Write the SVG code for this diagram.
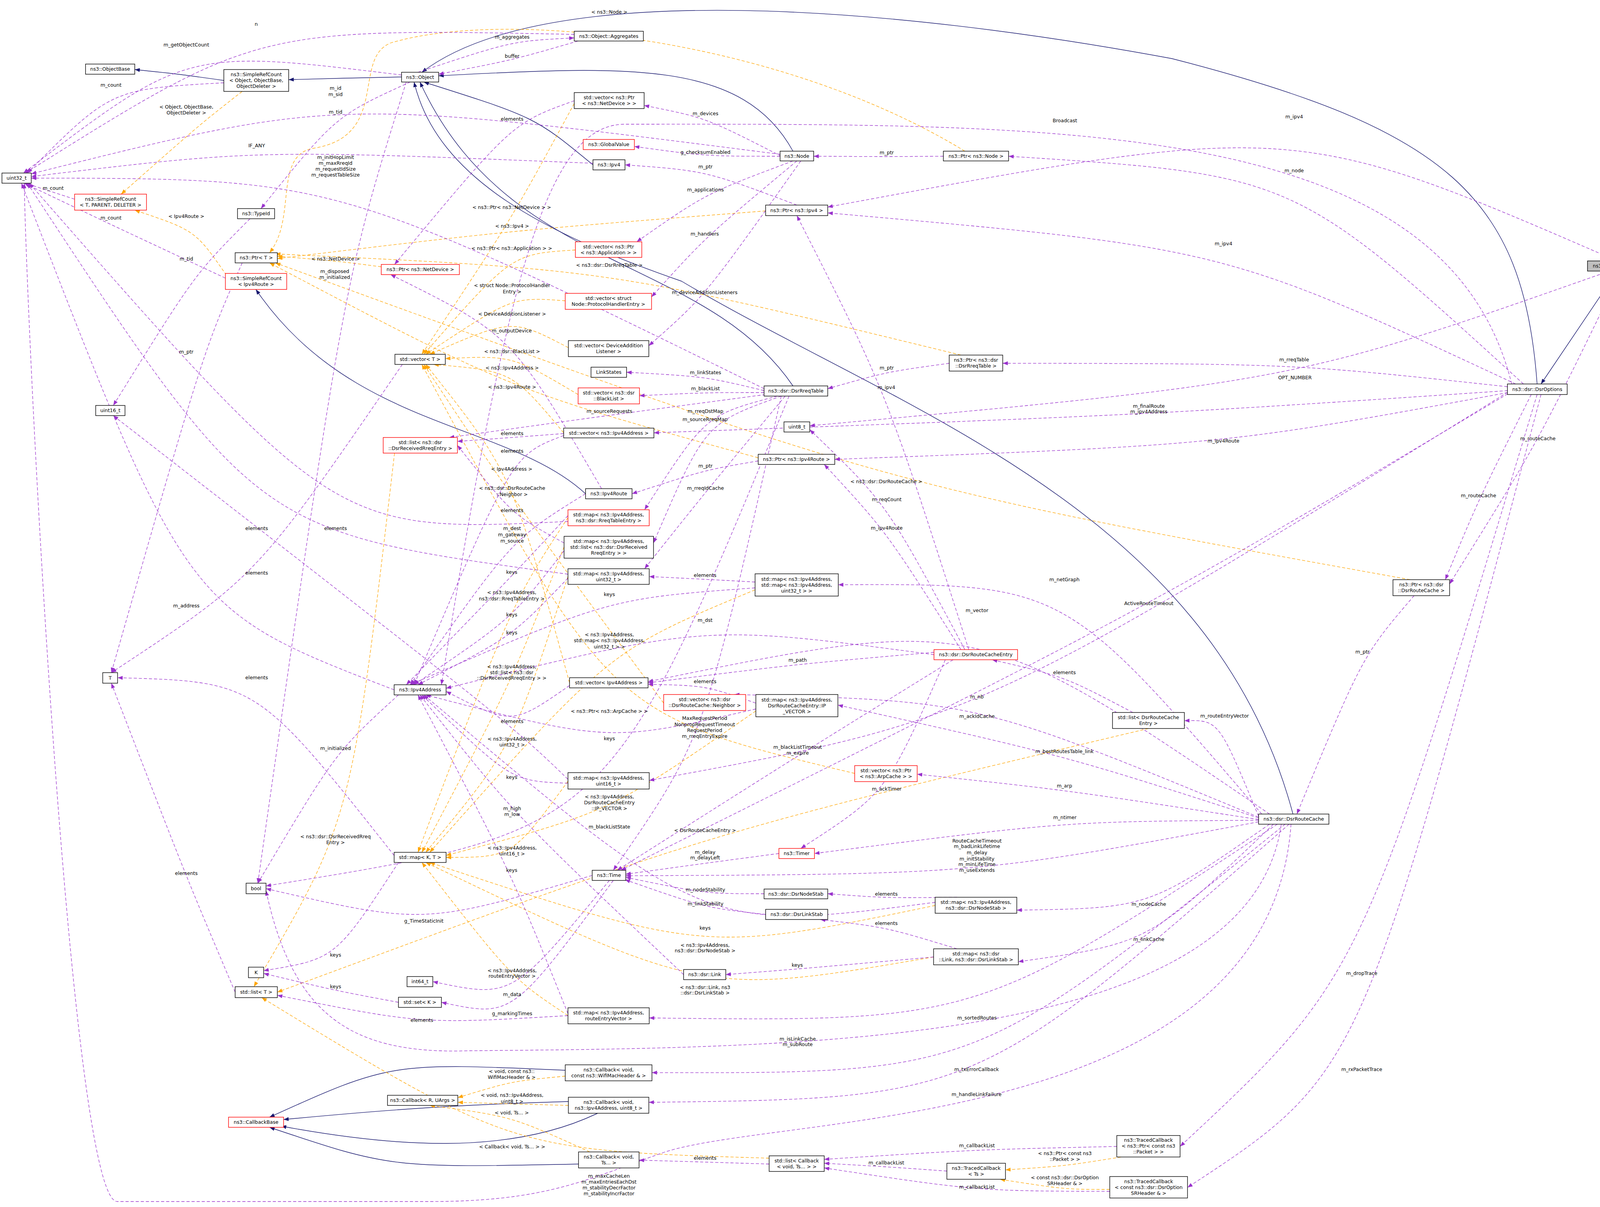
<svg xmlns="http://www.w3.org/2000/svg" width="4237" height="3090" viewBox="0 0 4237 3090">
<style>
text{font-family:"DejaVu Sans","Liberation Sans",sans-serif;font-size:12.5px;fill:#000;text-anchor:middle}
.nd rect{fill:#fff;stroke:#000;stroke-width:1.4}
.nd.red rect{stroke:#ff0000}
.nd.cur rect{fill:#bfbfbf}
.m{fill:none;stroke:#9a32cd;stroke-width:1.3;stroke-dasharray:8,5;marker-end:url(#am)}
.t{fill:none;stroke:#ffa500;stroke-width:1.3;stroke-dasharray:8,5;marker-end:url(#at)}
.i{fill:none;stroke:#191970;stroke-width:1.4;marker-end:url(#ai)}
</style>
<defs>
<marker id="am" markerUnits="userSpaceOnUse" markerWidth="13" markerHeight="10" refX="13" refY="5" orient="auto"><path d="M0,0 L13,5 L0,10 z" fill="#9a32cd"/></marker>
<marker id="at" markerUnits="userSpaceOnUse" markerWidth="13" markerHeight="10" refX="13" refY="5" orient="auto"><path d="M0,0 L13,5 L0,10 z" fill="#ffa500"/></marker>
<marker id="ai" markerUnits="userSpaceOnUse" markerWidth="13" markerHeight="10" refX="13" refY="5" orient="auto"><path d="M0,0 L13,5 L0,10 z" fill="#191970"/></marker>
</defs>
<rect width="4237" height="3090" fill="#fff"/>
<g id="edges">
<path class="i" d="M573,206 C460,190 460,190 345,178"/>
<path class="i" d="M1028,197 C880,200 880,200 739,204"/>
<path class="i" d="M2030,387 C1900,150 1600,170 1123,194"/>
<path class="i" d="M1518,422 C1370,300 1370,300 1085,210"/>
<path class="i" d="M2030,988 C1800,650 1300,700 1075,210"/>
<path class="i" d="M3310,2084 C3100,1300 2300,1050 1745,720 C1400,600 1120,460 1060,210"/>
<path class="i" d="M3935,983 C3900,500 3700,330 3000,150 C2300,20 1400,-60 1080,185"/>
<path class="i" d="M4140,694 L3945,983"/>
<path class="i" d="M1499,1264 C1300,1080 900,1100 655,741"/>
<path class="i" d="M1447,2740 C1000,2720 1000,2720 690,2860"/>
<path class="i" d="M1455,2820 C1100,2830 900,2850 726,2866"/>
<path class="i" d="M1530,2850 C1300,2960 1000,2935 720,2883"/>
<path class="i" d="M1481,2980 C1000,2990 1000,2990 690,2886"/>
<path class="t" d="M620,234 C510,320 510,320 310,497"/>
<path class="t" d="M580,705 C500,590 500,590 345,538"/>
<path class="t" d="M2470,387 C2000,100 1300,20 1000,110 C900,150 1000,350 800,380 C700,400 760,560 690,647"/>
<path class="t" d="M976,683 C860,668 860,668 710,656"/>
<path class="t" d="M1960,540 C1311,590 1311,590 710,662"/>
<path class="t" d="M2460,909 C1560,690 1560,690 705,650"/>
<path class="t" d="M1941,1172 C1311,1000 1311,1000 690,673"/>
<path class="t" d="M3610,1484 C2269,1243 2269,1243 705,673"/>
<path class="t" d="M1470,265 C1310,560 1310,560 1080,907"/>
<path class="t" d="M1473,640 C1310,650 1310,650 1085,907"/>
<path class="t" d="M1447,770 C1311,760 1311,760 1090,907"/>
<path class="t" d="M1455,890 C1311,815 1311,815 1100,907"/>
<path class="t" d="M1480,1010 C1311,910 1311,910 1140,918"/>
<path class="t" d="M1443,1108 C1311,950 1311,950 1110,933"/>
<path class="t" d="M1458,1748 C1310,1210 1310,1210 1090,933"/>
<path class="t" d="M1699,1800 C1311,1275 1311,1275 1085,933"/>
<path class="t" d="M2188,1980 C1560,1830 1560,1830 1080,933"/>
<path class="t" d="M1010,1160 C900,2100 900,2100 650,2526"/>
<path class="t" d="M2940,1865 C1805,2135 1805,2135 710,2540"/>
<path class="t" d="M1969,2965 C1311,2945 1311,2945 670,2554"/>
<path class="t" d="M1454,1325 C1310,1545 1310,1545 1070,2182"/>
<path class="t" d="M1444,1400 C1310,1745 1310,1745 1080,2182"/>
<path class="t" d="M1454,1476 C1311,1915 1311,1915 1090,2182"/>
<path class="t" d="M1933,1510 C1560,1665 1560,1665 1100,2182"/>
<path class="t" d="M1935,1820 C1560,2080 1560,2080 1142,2190"/>
<path class="t" d="M1454,2000 C1311,2195 1311,2195 1142,2195"/>
<path class="t" d="M1454,2600 C1311,2505 1311,2505 1080,2208"/>
<path class="t" d="M2394,2318 C1805,2440 1805,2440 1100,2208"/>
<path class="t" d="M2390,2450 C1805,2550 1805,2550 1090,2208"/>
<path class="t" d="M1447,2755 C1310,2768 1310,2768 1172,2810"/>
<path class="t" d="M1455,2830 C1311,2826 1311,2826 1172,2822"/>
<path class="t" d="M1510,2949 C1310,2858 1310,2858 1100,2830"/>
<path class="t" d="M2870,2962 C2726,2985 2726,2985 2574,2995"/>
<path class="t" d="M2841,3045 C2726,3045 2726,3045 2560,3019"/>
<path class="m" d="M1470,88 C656,72 656,72 65,443"/>
<path class="m" d="M1028,192 C477,125 477,125 60,443"/>
<path class="m" d="M573,212 C284,228 284,228 70,443"/>
<path class="m" d="M1070,185 C1311,105 1311,105 1470,97"/>
<path class="m" d="M1480,105 C1311,154 1311,154 1123,190"/>
<path class="m" d="M1997,395 C859,250 859,250 80,445"/>
<path class="m" d="M1050,210 C859,297 859,297 668,534"/>
<path class="m" d="M1518,418 C657,383 657,383 80,452"/>
<path class="m" d="M1956,995 C859,457 859,457 80,456"/>
<path class="m" d="M191,510 C136,492 136,492 65,469"/>
<path class="m" d="M577,712 C284,575 284,575 62,469"/>
<path class="m" d="M640,560 C500,700 500,700 290,1038"/>
<path class="m" d="M620,673 C520,901 520,901 285,1722"/>
<path class="m" d="M1040,210 C880,720 880,720 660,2261"/>
<path class="m" d="M1020,1779 C859,1926 859,1926 660,2261"/>
<path class="m" d="M2000,400 C1806,301 1806,301 1649,270"/>
<path class="m" d="M1997,400 C1806,400 1806,400 1624,375"/>
<path class="m" d="M2040,525 C1806,437 1806,437 1600,422"/>
<path class="m" d="M2030,412 C1806,496 1806,496 1630,619"/>
<path class="m" d="M2040,412 C1804,609 1804,609 1668,760"/>
<path class="m" d="M2050,412 C1804,759 1804,759 1661,885"/>
<path class="m" d="M2415,400 C2270,401 2270,401 2083,400"/>
<path class="m" d="M3900,983 C3313,447 3313,447 2582,400"/>
<path class="m" d="M4140,668 C3313,309 3313,309 2119,530"/>
<path class="m" d="M3880,983 C3132,634 3132,634 2119,545"/>
<path class="m" d="M2480,1663 C2269,1002 2269,1002 2040,552"/>
<path class="m" d="M3870,983 C3700,300 2726,318 1600,318 C1400,318 1300,700 1130,1753"/>
<path class="m" d="M1956,1000 C1806,964 1806,964 1604,953"/>
<path class="m" d="M1956,1005 C1806,1005 1806,1005 1637,1013"/>
<path class="m" d="M1960,1010 C1560,1063 1560,1063 1150,1120"/>
<path class="m" d="M1990,1014 C1806,1063 1806,1063 1650,1305"/>
<path class="m" d="M2000,1014 C1805,1084 1805,1084 1673,1390"/>
<path class="m" d="M2010,1014 C1806,1260 1806,1260 1650,1456"/>
<path class="m" d="M2430,930 C2270,952 2270,952 2119,995"/>
<path class="m" d="M3859,990 C3313,931 3313,931 2567,930"/>
<path class="m" d="M4120,694 C3315,977 3315,977 2073,1090"/>
<path class="m" d="M2470,1663 C2270,1289 2270,1289 2073,1100"/>
<path class="m" d="M3860,1000 C2941,1062 2941,1062 1674,1108"/>
<path class="m" d="M3860,1005 C3132,1139 3132,1139 2137,1176"/>
<path class="m" d="M2460,1663 C2270,1362 2270,1362 2110,1189"/>
<path class="m" d="M1941,1180 C1806,1203 1806,1203 1618,1264"/>
<path class="m" d="M3920,1010 C3785,1279 3785,1279 3700,1484"/>
<path class="m" d="M4150,694 C3937,1133 3937,1133 3711,1495"/>
<path class="m" d="M3620,1525 C3488,1679 3488,1679 3320,2084"/>
<path class="m" d="M3935,1010 C3486,2502 3486,2502 3021,2935"/>
<path class="m" d="M3945,1010 C3486,2748 3486,2748 3040,3040"/>
<path class="m" d="M3860,1008 C2941,1555 2941,1555 1590,2228"/>
<path class="m" d="M3230,2084 C2725,1494 2725,1494 2146,1497"/>
<path class="m" d="M3250,2084 C2501,1573 2501,1573 1659,1745"/>
<path class="m" d="M2391,1670 C2042,1700 2042,1700 1659,1748"/>
<path class="m" d="M2391,1676 C1805,1598 1805,1598 1142,1762"/>
<path class="m" d="M2900,1824 C2725,1732 2725,1732 2540,1689"/>
<path class="m" d="M3222,2090 C3120,1843 3120,1843 3032,1845"/>
<path class="m" d="M3222,2092 C2501,1794 2501,1794 1880,1778"/>
<path class="m" d="M3222,2094 C2725,1934 2725,1934 2145,1805"/>
<path class="m" d="M3860,1004 C2501,1844 2501,1844 1662,1998"/>
<path class="m" d="M3222,2098 C2725,2022 2725,2022 2348,1982"/>
<path class="m" d="M2420,1689 C2270,2030 2270,2030 2050,2172"/>
<path class="m" d="M3222,2100 C2726,2103 2726,2103 2085,2185"/>
<path class="m" d="M1994,2185 C1805,2210 1805,2210 1602,2238"/>
<path class="m" d="M3222,2104 C2501,2238 2501,2238 1602,2242"/>
<path class="m" d="M1956,2288 C1806,2288 1806,2288 1602,2246"/>
<path class="m" d="M1960,2341 C1806,2324 1806,2324 1600,2252"/>
<path class="m" d="M2450,2297 C2269,2299 2269,2299 2119,2288"/>
<path class="m" d="M2450,2429 C2269,2374 2269,2374 2100,2354"/>
<path class="m" d="M2390,2450 C2041,2481 2041,2481 1858,2495"/>
<path class="m" d="M3250,2110 C2941,2325 2941,2325 2603,2330"/>
<path class="m" d="M3260,2110 C2941,2415 2941,2415 2607,2462"/>
<path class="m" d="M3270,2110 C2501,2616 2501,2616 1662,2606"/>
<path class="m" d="M3280,2110 C3200,2682 2042,2682 1200,2690 C900,2700 750,2600 681,2280"/>
<path class="m" d="M3290,2110 C2500,2748 2500,2748 1669,2746"/>
<path class="m" d="M3300,2110 C2500,2812 2500,2812 1661,2822"/>
<path class="m" d="M3305,2110 C3250,2900 2000,2850 1700,2950 C1500,3020 1400,3076 1100,3076 L300,3076 C180,3076 70,900 62,469"/>
<path class="m" d="M2859,2935 C2501,2943 2501,2943 2110,2968"/>
<path class="m" d="M2424,2998 C2269,2987 2269,2987 2110,2978"/>
<path class="m" d="M2841,3050 C2501,3049 2501,3049 2110,2990"/>
<path class="m" d="M1969,2980 C1805,2975 1805,2975 1636,2970"/>
<path class="m" d="M1750,2495 C1311,2080 1311,2080 1075,1779"/>
<path class="m" d="M1560,2254 C1311,2556 1311,2556 1108,2513"/>
<path class="m" d="M1570,2254 C1311,2605 1311,2605 1130,2566"/>
<path class="m" d="M1516,2241 C1085,2368 1085,2368 681,2275"/>
<path class="m" d="M1020,2208 C859,2455 859,2455 675,2485"/>
<path class="m" d="M1020,2566 C859,2536 859,2536 675,2492"/>
<path class="m" d="M602,2540 C477,2246 477,2246 285,1749"/>
<path class="m" d="M1030,933 C657,1477 657,1477 285,1722"/>
<path class="m" d="M1009,2190 C657,1745 657,1745 301,1735"/>
<path class="m" d="M1454,2600 C1080,2622 1080,2622 710,2548"/>
<path class="m" d="M1454,1470 C657,1363 657,1363 70,469"/>
<path class="m" d="M1454,1335 C859,1363 859,1363 75,469"/>
<path class="m" d="M1454,1995 C1311,1857 1311,1857 290,1064"/>
<path class="m" d="M1444,1390 C1311,1317 1311,1317 1171,1140"/>
<path class="m" d="M1443,1110 C1311,1120 1311,1120 1171,1130"/>
<path class="m" d="M1443,1115 C1311,1165 1311,1165 1060,1753"/>
<path class="m" d="M1935,1800 C1805,1755 1805,1755 1659,1752"/>
<path class="m" d="M1933,1490 C1805,1483 1805,1483 1662,1476"/>
<path class="m" d="M1458,1755 C1311,1857 1311,1857 1142,1770"/>
<path class="m" d="M1454,1320 C1310,1475 1310,1475 1040,1753"/>
<path class="m" d="M1933,1505 C1560,1532 1560,1532 1050,1753"/>
<path class="m" d="M1444,1410 C1310,1584 1310,1584 1060,1753"/>
<path class="m" d="M1454,1480 C1310,1630 1310,1630 1070,1753"/>
<path class="m" d="M1935,1815 C1560,1901 1560,1901 1090,1779"/>
<path class="m" d="M1454,2005 C1310,2000 1310,2000 1080,1779"/>
<path class="m" d="M1454,2595 C1310,2238 1310,2238 1070,1779"/>
<path class="m" d="M2394,2310 C1805,2386 1805,2386 1085,1779"/>
<path class="m" d="M1499,1264 C1311,1380 1311,1380 1050,1753"/>
<path class="m" d="M1009,1766 C477,1561 477,1561 55,469"/>
<path class="m" d="M1540,1251 C1310,857 1310,857 1000,703"/>
<path class="m" d="M1470,258 C1311,315 1311,315 1010,677"/>
<path class="m" d="M2020,1014 C1560,2127 1560,2127 681,2268"/>
<path class="m" d="M2440,1689 C2042,1935 2042,1935 1580,2228"/>
<path class="m" d="M2000,1014 C1804,1890 1804,1890 1570,2228"/>
</g>
<g id="labels">
<text x="656" y="66">n</text>
<text x="477" y="119">m_getObjectCount</text>
<text x="284" y="222">m_count</text>
<text x="477" y="278">&lt; Object, ObjectBase,</text>
<text x="477" y="293">ObjectDeleter &gt;</text>
<text x="859" y="230">m_id</text><text x="859" y="246">m_sid</text>
<text x="859" y="291">m_tid</text>
<text x="657" y="377">IF_ANY</text>
<text x="859" y="407">m_initHopLimit</text><text x="859" y="422">m_maxRreqId</text><text x="859" y="437">m_requestIdSize</text><text x="859" y="452">m_requestTableSize</text>
<text x="136" y="486">m_count</text>
<text x="477" y="558">&lt; Ipv4Route &gt;</text>
<text x="284" y="562">m_count</text>
<text x="477" y="667">m_tid</text>
<text x="859" y="667">&lt; ns3::NetDevice &gt;</text>
<text x="857" y="699">m_disposed</text><text x="857" y="714">m_initialized</text>
<text x="477" y="905">m_ptr</text>
<text x="1560" y="35">&lt; ns3::Node &gt;</text>
<text x="1311" y="99">m_aggregates</text>
<text x="1311" y="148">buffer</text>
<text x="1311" y="309">elements</text>
<text x="1806" y="295">m_devices</text>
<text x="1806" y="394">g_checksumEnabled</text>
<text x="1806" y="431">m_ptr</text>
<text x="1806" y="490">m_applications</text>
<text x="1310" y="535">&lt; ns3::Ptr&lt; ns3::NetDevice &gt; &gt;</text>
<text x="1311" y="583">&lt; ns3::Ipv4 &gt;</text>
<text x="1804" y="603">m_handlers</text>
<text x="1310" y="640">&lt; ns3::Ptr&lt; ns3::Application &gt; &gt;</text>
<text x="1560" y="683">&lt; ns3::dsr::DsrRreqTable &gt;</text>
<text x="1311" y="735">&lt; struct Node::ProtocolHandler</text><text x="1311" y="751">Entry &gt;</text>
<text x="1804" y="753">m_deviceAdditionListeners</text>
<text x="1311" y="808">&lt; DeviceAdditionListener &gt;</text>
<text x="1310" y="851">m_outputDevice</text>
<text x="1311" y="904">&lt; ns3::dsr::BlackList &gt;</text>
<text x="1806" y="958">m_linkStates</text>
<text x="1311" y="946">&lt; ns3::Ipv4Address &gt;</text>
<text x="1806" y="999">m_blackList</text>
<text x="1311" y="995">&lt; ns3::Ipv4Route &gt;</text>
<text x="1560" y="1057">m_sourceRequests</text>
<text x="1806" y="1057">m_rreqDstMap</text>
<text x="2726" y="313">Broadcast</text>
<text x="2270" y="395">m_ptr</text>
<text x="3132" y="628">m_ipv4</text>
<text x="2270" y="946">m_ptr</text>
<text x="2269" y="996">m_ipv4</text>
<text x="2941" y="1044">m_finalRoute</text><text x="2941" y="1058">m_ipv4Address</text>
<text x="3313" y="303">m_ipv4</text>
<text x="3313" y="441">m_node</text>
<text x="3313" y="925">m_rreqTable</text>
<text x="3315" y="971">OPT_NUMBER</text>
<text x="657" y="1357">elements</text><text x="859" y="1357">elements</text>
<text x="657" y="1471">elements</text>
<text x="477" y="1555">m_address</text>
<text x="657" y="1739">elements</text>
<text x="859" y="1920">m_initialized</text>
<text x="1805" y="1078">m_sourceRreqMap</text>
<text x="1311" y="1114">elements</text>
<text x="1311" y="1159">elements</text>
<text x="1806" y="1197">m_ptr</text>
<text x="1310" y="1205">&lt; Ipv4Address &gt;</text>
<text x="1806" y="1254">m_rreqIdCache</text>
<text x="1311" y="1254">&lt; ns3::dsr::DsrRouteCache</text><text x="1311" y="1270">::Neighbor &gt;</text>
<text x="1311" y="1311">elements</text>
<text x="1311" y="1357">m_dest</text><text x="1311" y="1373">m_gateway</text><text x="1311" y="1389">m_source</text>
<text x="1310" y="1469">keys</text>
<text x="1805" y="1477">elements</text>
<text x="1310" y="1521">&lt; ns3::Ipv4Address,</text><text x="1310" y="1537">ns3::dsr::RreqTableEntry &gt;</text>
<text x="1560" y="1526">keys</text>
<text x="1310" y="1578">keys</text>
<text x="1805" y="1592">m_dst</text>
<text x="1310" y="1624">keys</text>
<text x="1560" y="1629">&lt; ns3::Ipv4Address,</text><text x="1560" y="1644">std::map&lt; ns3::Ipv4Address,</text><text x="1560" y="1660">uint32_t &gt; &gt;</text>
<text x="2042" y="1694">m_path</text>
<text x="1310" y="1711">&lt; ns3::Ipv4Address,</text><text x="1310" y="1726">std::list&lt; ns3::dsr</text><text x="1310" y="1740">::DsrReceivedRreqEntry &gt; &gt;</text>
<text x="1805" y="1749">elements</text>
<text x="1560" y="1825">&lt; ns3::Ptr&lt; ns3::ArpCache &gt; &gt;</text>
<text x="1804" y="1843">MaxRequestPeriod</text><text x="1804" y="1859">NonpropRequestTimeout</text><text x="1804" y="1874">RequestPeriod</text><text x="1804" y="1889">m_rreqEntryExpire</text>
<text x="1311" y="1851">elements</text>
<text x="1560" y="1895">keys</text>
<text x="1311" y="1896">&lt; ns3::Ipv4Address,</text><text x="1311" y="1911">uint32_t &gt;</text>
<text x="2042" y="1917">m_blackListTimeout</text><text x="2042" y="1932">m_expire</text>
<text x="1310" y="1994">keys</text>
<text x="1560" y="2044">&lt; ns3::Ipv4Address,</text><text x="1560" y="2059">DsrRouteCacheEntry</text><text x="1560" y="2074">::IP_VECTOR &gt;</text>
<text x="1311" y="2074">m_high</text><text x="1311" y="2089">m_low</text>
<text x="3132" y="1133">m_ipv4Route</text>
<text x="2269" y="1237">&lt; ns3::dsr::DsrRouteCache &gt;</text>
<text x="2270" y="1283">m_reqCount</text>
<text x="2270" y="1356">m_ipv4Route</text>
<text x="2725" y="1488">m_netGraph</text>
<text x="2941" y="1549">ActiveRouteTimeout</text>
<text x="2501" y="1567">m_vector</text>
<text x="2725" y="1726">elements</text>
<text x="2501" y="1788">m_nb</text>
<text x="3135" y="1837">m_routeEntryVector</text>
<text x="2501" y="1838">m_ackIdCache</text>
<text x="2725" y="1928">m_bestRoutesTable_link</text>
<text x="2725" y="2016">m_arp</text>
<text x="2270" y="2024">m_ackTimer</text>
<text x="3937" y="1127">m_routeCache</text>
<text x="3785" y="1273">m_routeCache</text>
<text x="3488" y="1673">m_ptr</text>
<text x="859" y="2146">&lt; ns3::dsr::DsrReceivedRreq</text><text x="859" y="2161">Entry &gt;</text>
<text x="477" y="2240">elements</text>
<text x="1085" y="2362">g_TimeStaticInit</text>
<text x="859" y="2449">keys</text>
<text x="859" y="2530">keys</text>
<text x="1080" y="2616">elements</text>
<text x="1560" y="2121">m_blackListState</text>
<text x="1805" y="2130">&lt; DsrRouteCacheEntry &gt;</text>
<text x="1311" y="2175">&lt; ns3::Ipv4Address,</text><text x="1311" y="2190">uint16_t &gt;</text>
<text x="1805" y="2186">m_delay</text><text x="1805" y="2200">m_delayLeft</text>
<text x="1310" y="2232">keys</text>
<text x="1806" y="2282">m_nodeStability</text>
<text x="1806" y="2318">m_linkStability</text>
<text x="1805" y="2380">keys</text>
<text x="1805" y="2424">&lt; ns3::Ipv4Address,</text><text x="1805" y="2438">ns3::dsr::DsrNodeStab &gt;</text>
<text x="2041" y="2475">keys</text>
<text x="1311" y="2489">&lt; ns3::Ipv4Address,</text><text x="1311" y="2503">routeEntryVector &gt;</text>
<text x="1805" y="2532">&lt; ns3::dsr::Link, ns3</text><text x="1805" y="2546">::dsr::DsrLinkStab &gt;</text>
<text x="1311" y="2550">m_data</text>
<text x="1311" y="2599">g_markingTimes</text>
<text x="2042" y="2664">m_isLinkCache</text><text x="2042" y="2678">m_subRoute</text>
<text x="1310" y="2747">&lt; void, const ns3::</text><text x="1310" y="2762">WifiMacHeader &amp; &gt;</text>
<text x="1311" y="2808">&lt; void, ns3::Ipv4Address,</text><text x="1311" y="2824">uint8_t &gt;</text>
<text x="1310" y="2853">&lt; void, Ts... &gt;</text>
<text x="1311" y="2940">&lt; Callback&lt; void, Ts... &gt; &gt;</text>
<text x="1805" y="2969">elements</text>
<text x="1559" y="3015">m_maxCacheLen</text><text x="1559" y="3030">m_maxEntriesEachDst</text><text x="1559" y="3045">m_stabilityDecrFactor</text><text x="1559" y="3060">m_stabilityIncrFactor</text>
<text x="2726" y="2097">m_ntimer</text>
<text x="2501" y="2157">RouteCacheTimeout</text><text x="2501" y="2171">m_badLinkLifetime</text><text x="2501" y="2187">m_delay</text><text x="2501" y="2203">m_initStability</text><text x="2501" y="2217">m_minLifeTime</text><text x="2501" y="2232">m_useExtends</text>
<text x="2269" y="2293">elements</text>
<text x="2941" y="2319">m_nodeCache</text>
<text x="2269" y="2368">elements</text>
<text x="2941" y="2409">m_linkCache</text>
<text x="2501" y="2610">m_sortedRoutes</text>
<text x="2500" y="2742">m_txErrorCallback</text>
<text x="2500" y="2806">m_handleLinkFailure</text>
<text x="2501" y="2937">m_callbackList</text>
<text x="2726" y="2957">&lt; ns3::Ptr&lt; const ns3</text><text x="2726" y="2972">::Packet &gt; &gt;</text>
<text x="2269" y="2981">m_callbackList</text>
<text x="2726" y="3019">&lt; const ns3::dsr::DsrOption</text><text x="2726" y="3034">SRHeader &amp; &gt;</text>
<text x="2501" y="3043">m_callbackList</text>
<text x="3486" y="2496">m_dropTrace</text>
<text x="3486" y="2742">m_rxPacketTrace</text>
</g>
<g id="ObjectBase" class="nd"><rect x="219" y="164" width="126" height="26"/><text x="282" y="181">ns3::ObjectBase</text></g>
<g id="SRCObject" class="nd"><rect x="573" y="178" width="166" height="56"/><text x="656" y="195">ns3::SimpleRefCount</text><text x="656" y="210">&lt; Object, ObjectBase,</text><text x="656" y="225">ObjectDeleter &gt;</text></g>
<g id="uint32" class="nd"><rect x="5" y="443" width="75" height="26"/><text x="42.5" y="460">uint32_t</text></g>
<g id="SRCT" class="nd red"><rect x="191" y="497" width="184" height="41"/><text x="283" y="514">ns3::SimpleRefCount</text><text x="283" y="529">&lt; T, PARENT, DELETER &gt;</text></g>
<g id="TypeId" class="nd"><rect x="608" y="534" width="95" height="26"/><text x="655.5" y="551">ns3::TypeId</text></g>
<g id="PtrT" class="nd"><rect x="602" y="647" width="108" height="26"/><text x="656" y="664">ns3::Ptr&lt; T &gt;</text></g>
<g id="SRCIpv4Route" class="nd red"><rect x="577" y="700" width="157" height="41"/><text x="655.5" y="717">ns3::SimpleRefCount</text><text x="655.5" y="732">&lt; Ipv4Route &gt;</text></g>
<g id="uint16" class="nd"><rect x="245" y="1038" width="75" height="26"/><text x="282.5" y="1055">uint16_t</text></g>
<g id="Object" class="nd"><rect x="1028" y="185" width="95" height="25"/><text x="1075.5" y="202">ns3::Object</text></g>
<g id="PtrNetDevice" class="nd red"><rect x="976" y="677" width="200" height="26"/><text x="1076" y="694">ns3::Ptr&lt; ns3::NetDevice &gt;</text></g>
<g id="vectorT" class="nd"><rect x="1011" y="907" width="129" height="26"/><text x="1075.5" y="924">std::vector&lt; T &gt;</text></g>
<g id="Aggregates" class="nd"><rect x="1470" y="80" width="177" height="25"/><text x="1558.5" y="97">ns3::Object::Aggregates</text></g>
<g id="vecPtrNetDev" class="nd"><rect x="1470" y="237" width="179" height="41"/><text x="1559.5" y="254">std::vector&lt; ns3::Ptr</text><text x="1559.5" y="269">&lt; ns3::NetDevice &gt; &gt;</text></g>
<g id="GlobalValue" class="nd red"><rect x="1493" y="357" width="131" height="26"/><text x="1558.5" y="374">ns3::GlobalValue</text></g>
<g id="Ipv4" class="nd"><rect x="1518" y="409" width="82" height="26"/><text x="1559" y="426">ns3::Ipv4</text></g>
<g id="Node" class="nd"><rect x="1997" y="387" width="86" height="25"/><text x="2040" y="404">ns3::Node</text></g>
<g id="PtrIpv4" class="nd"><rect x="1960" y="525" width="159" height="27"/><text x="2039.5" y="543">ns3::Ptr&lt; ns3::Ipv4 &gt;</text></g>
<g id="vecPtrApp" class="nd red"><rect x="1473" y="619" width="170" height="40"/><text x="1558" y="636">std::vector&lt; ns3::Ptr</text><text x="1558" y="651">&lt; ns3::Application &gt; &gt;</text></g>
<g id="vecProto" class="nd red"><rect x="1447" y="751" width="221" height="41"/><text x="1557.5" y="768">std::vector&lt; struct</text><text x="1557.5" y="783">Node::ProtocolHandlerEntry &gt;</text></g>
<g id="vecDevAdd" class="nd"><rect x="1455" y="872" width="206" height="41"/><text x="1558" y="889">std::vector&lt; DeviceAddition</text><text x="1558" y="904">Listener &gt;</text></g>
<g id="LinkStates" class="nd"><rect x="1513" y="940" width="91" height="26"/><text x="1558.5" y="957">LinkStates</text></g>
<g id="vecBlack" class="nd red"><rect x="1480" y="993" width="157" height="41"/><text x="1558.5" y="1010">std::vector&lt; ns3::dsr</text><text x="1558.5" y="1025">::BlackList &gt;</text></g>
<g id="DsrRreqTable" class="nd"><rect x="1956" y="988" width="163" height="26"/><text x="2037.5" y="1005">ns3::dsr::DsrRreqTable</text></g>
<g id="PtrNode" class="nd"><rect x="2415" y="387" width="167" height="25"/><text x="2498.5" y="404">ns3::Ptr&lt; ns3::Node &gt;</text></g>
<g id="PtrRreqTable" class="nd"><rect x="2430" y="909" width="137" height="41"/><text x="2498.5" y="926">ns3::Ptr&lt; ns3::dsr</text><text x="2498.5" y="941">::DsrRreqTable &gt;</text></g>
<g id="DsrOptionAck" class="nd cur"><rect x="4064" y="668" width="171" height="26"/><text x="4149.5" y="685">ns3::dsr::DsrOptionAck</text></g>
<g id="DsrOptions" class="nd"><rect x="3859" y="983" width="153" height="27"/><text x="3935.5" y="1001">ns3::dsr::DsrOptions</text></g>
<g id="listRecv" class="nd red"><rect x="981" y="1120" width="190" height="40"/><text x="1076" y="1137">std::list&lt; ns3::dsr</text><text x="1076" y="1152">::DsrReceivedRreqEntry &gt;</text></g>
<g id="T" class="nd"><rect x="263" y="1722" width="38" height="27"/><text x="282" y="1740">T</text></g>
<g id="Ipv4Address" class="nd"><rect x="1009" y="1753" width="133" height="26"/><text x="1075.5" y="1770">ns3::Ipv4Address</text></g>
<g id="uint8" class="nd"><rect x="2007" y="1080" width="66" height="26"/><text x="2040" y="1097">uint8_t</text></g>
<g id="vecNs3Ipv4Addr" class="nd"><rect x="1443" y="1096" width="231" height="25"/><text x="1558.5" y="1113">std::vector&lt; ns3::Ipv4Address &gt;</text></g>
<g id="PtrIpv4Route" class="nd"><rect x="1941" y="1163" width="196" height="26"/><text x="2039" y="1180">ns3::Ptr&lt; ns3::Ipv4Route &gt;</text></g>
<g id="Ipv4Route" class="nd"><rect x="1499" y="1251" width="119" height="26"/><text x="1558.5" y="1268">ns3::Ipv4Route</text></g>
<g id="mapRreqEntry" class="nd red"><rect x="1454" y="1305" width="208" height="41"/><text x="1558" y="1322">std::map&lt; ns3::Ipv4Address,</text><text x="1558" y="1337">ns3::dsr::RreqTableEntry &gt;</text></g>
<g id="mapRecvList" class="nd"><rect x="1444" y="1373" width="229" height="56"/><text x="1558.5" y="1390">std::map&lt; ns3::Ipv4Address,</text><text x="1558.5" y="1405">std::list&lt; ns3::dsr::DsrReceived</text><text x="1558.5" y="1420">RreqEntry &gt; &gt;</text></g>
<g id="mapU32" class="nd"><rect x="1454" y="1456" width="208" height="40"/><text x="1558" y="1473">std::map&lt; ns3::Ipv4Address,</text><text x="1558" y="1488">uint32_t &gt;</text></g>
<g id="mapMap" class="nd"><rect x="1933" y="1469" width="213" height="57"/><text x="2039.5" y="1487">std::map&lt; ns3::Ipv4Address,</text><text x="2039.5" y="1502">std::map&lt; ns3::Ipv4Address,</text><text x="2039.5" y="1517">uint32_t &gt; &gt;</text></g>
<g id="vecIpv4Addr" class="nd"><rect x="1458" y="1735" width="201" height="26"/><text x="1558.5" y="1752">std::vector&lt; Ipv4Address &gt;</text></g>
<g id="vecNeighbor" class="nd red"><rect x="1699" y="1778" width="210" height="41"/><text x="1804" y="1795">std::vector&lt; ns3::dsr</text><text x="1804" y="1810">::DsrRouteCache::Neighbor &gt;</text></g>
<g id="mapIPVec" class="nd"><rect x="1935" y="1778" width="210" height="57"/><text x="2040" y="1796">std::map&lt; ns3::Ipv4Address,</text><text x="2040" y="1811">DsrRouteCacheEntry::IP</text><text x="2040" y="1826">_VECTOR &gt;</text></g>
<g id="mapU16" class="nd"><rect x="1454" y="1978" width="208" height="42"/><text x="1558" y="1996">std::map&lt; ns3::Ipv4Address,</text><text x="1558" y="2011">uint16_t &gt;</text></g>
<g id="DsrRouteCacheEntry" class="nd red"><rect x="2391" y="1663" width="214" height="26"/><text x="2498" y="1680">ns3::dsr::DsrRouteCacheEntry</text></g>
<g id="listRCE" class="nd"><rect x="2848" y="1824" width="184" height="41"/><text x="2940" y="1841">std::list&lt; DsrRouteCache</text><text x="2940" y="1856">Entry &gt;</text></g>
<g id="vecArp" class="nd red"><rect x="2188" y="1960" width="160" height="41"/><text x="2268" y="1977">std::vector&lt; ns3::Ptr</text><text x="2268" y="1992">&lt; ns3::ArpCache &gt; &gt;</text></g>
<g id="PtrRouteCache" class="nd"><rect x="3566" y="1484" width="145" height="41"/><text x="3638.5" y="1501">ns3::Ptr&lt; ns3::dsr</text><text x="3638.5" y="1516">::DsrRouteCache &gt;</text></g>
<g id="DsrRouteCache" class="nd"><rect x="3222" y="2084" width="180" height="26"/><text x="3312" y="2101">ns3::dsr::DsrRouteCache</text></g>
<g id="bool" class="nd"><rect x="630" y="2261" width="51" height="27"/><text x="655.5" y="2279">bool</text></g>
<g id="K" class="nd"><rect x="636" y="2476" width="39" height="27"/><text x="655.5" y="2494">K</text></g>
<g id="listT" class="nd"><rect x="602" y="2526" width="108" height="28"/><text x="656" y="2544">std::list&lt; T &gt;</text></g>
<g id="CallbackBase" class="nd red"><rect x="585" y="2860" width="141" height="26"/><text x="655.5" y="2877">ns3::CallbackBase</text></g>
<g id="mapKT" class="nd"><rect x="1009" y="2182" width="133" height="26"/><text x="1075.5" y="2199">std::map&lt; K, T &gt;</text></g>
<g id="Time" class="nd"><rect x="1516" y="2228" width="86" height="26"/><text x="1559" y="2245">ns3::Time</text></g>
<g id="Timer" class="nd red"><rect x="1994" y="2172" width="91" height="26"/><text x="2039.5" y="2189">ns3::Timer</text></g>
<g id="DsrNodeStab" class="nd"><rect x="1956" y="2276" width="163" height="25"/><text x="2037.5" y="2293">ns3::dsr::DsrNodeStab</text></g>
<g id="DsrLinkStab" class="nd"><rect x="1960" y="2328" width="159" height="26"/><text x="2039.5" y="2345">ns3::dsr::DsrLinkStab</text></g>
<g id="Link" class="nd"><rect x="1750" y="2482" width="108" height="26"/><text x="1804" y="2499">ns3::dsr::Link</text></g>
<g id="int64" class="nd"><rect x="1042" y="2500" width="66" height="26"/><text x="1075" y="2517">int64_t</text></g>
<g id="setK" class="nd"><rect x="1020" y="2553" width="110" height="26"/><text x="1075" y="2570">std::set&lt; K &gt;</text></g>
<g id="mapRouteVec" class="nd"><rect x="1454" y="2580" width="208" height="41"/><text x="1558" y="2597">std::map&lt; ns3::Ipv4Address,</text><text x="1558" y="2612">routeEntryVector &gt;</text></g>
<g id="CbWifi" class="nd"><rect x="1447" y="2726" width="222" height="41"/><text x="1558" y="2743">ns3::Callback&lt; void,</text><text x="1558" y="2758">const ns3::WifiMacHeader &amp; &gt;</text></g>
<g id="CbRU" class="nd"><rect x="992" y="2804" width="180" height="26"/><text x="1082" y="2821">ns3::Callback&lt; R, UArgs &gt;</text></g>
<g id="CbIpv4u8" class="nd"><rect x="1455" y="2809" width="206" height="41"/><text x="1558" y="2826">ns3::Callback&lt; void,</text><text x="1558" y="2841">ns3::Ipv4Address, uint8_t &gt;</text></g>
<g id="CbTs" class="nd"><rect x="1481" y="2949" width="155" height="41"/><text x="1558.5" y="2966">ns3::Callback&lt; void,</text><text x="1558.5" y="2981">Ts... &gt;</text></g>
<g id="listCb" class="nd"><rect x="1969" y="2959" width="141" height="40"/><text x="2039.5" y="2976">std::list&lt; Callback</text><text x="2039.5" y="2991">&lt; void, Ts... &gt; &gt;</text></g>
<g id="mapNodeStab" class="nd"><rect x="2394" y="2297" width="209" height="41"/><text x="2498.5" y="2314">std::map&lt; ns3::Ipv4Address,</text><text x="2498.5" y="2329">ns3::dsr::DsrNodeStab &gt;</text></g>
<g id="mapLinkStab" class="nd"><rect x="2390" y="2429" width="217" height="41"/><text x="2498.5" y="2446">std::map&lt; ns3::dsr</text><text x="2498.5" y="2461">::Link, ns3::dsr::DsrLinkStab &gt;</text></g>
<g id="TCPacket" class="nd"><rect x="2859" y="2907" width="162" height="55"/><text x="2940" y="2923">ns3::TracedCallback</text><text x="2940" y="2938">&lt; ns3::Ptr&lt; const ns3</text><text x="2940" y="2953">::Packet &gt; &gt;</text></g>
<g id="TCTs" class="nd"><rect x="2424" y="2978" width="150" height="41"/><text x="2499" y="2995">ns3::TracedCallback</text><text x="2499" y="3010">&lt; Ts &gt;</text></g>
<g id="TCSR" class="nd"><rect x="2841" y="3012" width="199" height="55"/><text x="2940.5" y="3029">ns3::TracedCallback</text><text x="2940.5" y="3044">&lt; const ns3::dsr::DsrOption</text><text x="2940.5" y="3059">SRHeader &amp; &gt;</text></g>
</svg>
